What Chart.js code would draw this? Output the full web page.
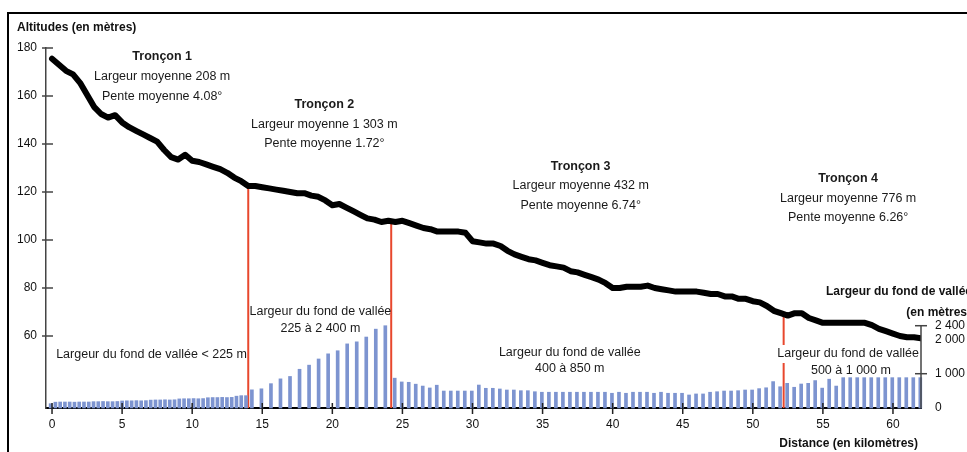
<!DOCTYPE html>
<html>
<head>
<meta charset="utf-8">
<script src="https://cdn.jsdelivr.net/npm/chart.js@4.4.1/dist/chart.umd.min.js"></script>
<style>
  html, body { margin: 0; padding: 0; background: #fff; }
  canvas { display: block; }
</style>
</head>
<body>
<canvas id="myChart" width="967" height="452"></canvas>
<script>
// Profil en long (altitude en m, un point tous les 0,5 km)
var profileStartKm = 0;
var profileStepKm = 0.5;
var profileAlt = [
  175.5, 173, 170.5, 169, 165.5, 160.5, 155.5, 152.5, 151, 152,
  149, 147, 145.5, 144, 142.5, 141, 137.5, 134.5, 133.5, 135.5,
  133, 132.5, 131.5, 130.5, 129.5, 128, 126, 124.5, 122.5, 122.5,
  122, 121.5, 121, 120.5, 120, 119.5, 119.5, 118.5, 118, 116.5,
  114.5, 115, 113.5, 112, 110.5, 109, 108.5, 107.5, 108, 107.5,
  108, 107, 106, 105, 104.5, 103.5, 103.5, 103.5, 103.5, 103,
  99.5, 99, 98.5, 98.5, 97.5, 95.5, 94, 93, 92, 91.5,
  90.5, 89.5, 89, 88.5, 87, 86.5, 85.5, 84.5, 83.5, 82,
  80, 80, 80.5, 80.5, 80.5, 81, 80, 79.5, 79, 78.5,
  78.5, 78.5, 78.5, 78, 77.5, 77.5, 76.5, 76.5, 75.5, 75.5,
  74.5, 74, 72.5, 70.5, 69.5, 68.5, 69.5, 69.5, 67.5, 66.5,
  65.5, 65.5, 65.5, 65.5, 65.5, 65.5, 65.5, 64.5, 63, 62,
  61, 60, 59.5, 59.5, 59
];

// Largeur du fond de vallée (m), par groupe de mesures
var widthStartKm = [-0.1, 14.26, 24.45];
var widthStepKm = [0.34, 0.68, 0.5];
var widthSeg1 = [
  125, 170, 175, 175, 175, 170, 175, 175, 175,
  185, 185, 190, 185, 185, 190,
  205, 210, 210, 215, 210, 215,
  230, 235, 235, 240, 235, 240,
  265, 270, 270, 275, 270, 275,
  300, 305, 305, 310, 305, 310,
  345, 360, 360
];
var widthSeg2 = [530, 560, 710, 850, 920, 1130, 1250, 1430, 1580, 1670, 1870, 1930, 2070, 2300, 2400];
var widthSeg3 = [
  870, 760, 750, 695, 640, 585, 665, 495, 495, 495,
  495, 495, 670, 575, 575, 555, 525, 525, 505, 505,
  475, 460, 460, 460, 460, 460, 460, 460, 460, 460,
  460, 430, 460, 430, 460, 460, 460, 430, 460, 430,
  430, 430, 380, 410, 410, 460, 475, 495, 495, 505,
  525, 525, 565, 590, 770, 620, 720, 605, 700, 720,
  800, 580, 840, 640, 885, 885, 885, 885, 885, 885,
  885, 885, 885, 885, 885, 885
];

// Limites des tronçons
var splitKm = [14, 24.2, 52.2];
var splitAlt = [122.5, 108, 69];

var xTickValues = [0, 5, 10, 15, 20, 25, 30, 35, 40, 45, 50, 55, 60];
var altTickValues = [60, 80, 100, 120, 140, 160, 180];
var widthTickValues = [0, 1000, 2000, 2400];
var widthTickMarks = [1000, 2400];

// Textes posés en km / altitude
var notes = [
  { text: 'Tronçon 1', km: 7.86, alt: 176.3, bold: true },
  { text: 'Largeur moyenne 208 m', km: 7.86, alt: 167.9 },
  { text: 'Pente moyenne 4.08°', km: 7.86, alt: 159.6 },
  { text: 'Tronçon 2', km: 19.43, alt: 156.3, bold: true },
  { text: 'Largeur moyenne 1 303 m', km: 19.43, alt: 148.1 },
  { text: 'Pente moyenne 1.72°', km: 19.43, alt: 140.2 },
  { text: 'Tronçon 3', km: 37.72, alt: 130.8, bold: true },
  { text: 'Largeur moyenne 432 m', km: 37.72, alt: 122.5 },
  { text: 'Pente moyenne 6.74°', km: 37.72, alt: 114.2 },
  { text: 'Tronçon 4', km: 56.8, alt: 125.4, bold: true },
  { text: 'Largeur moyenne 776 m', km: 56.8, alt: 117.1 },
  { text: 'Pente moyenne 6.26°', km: 56.8, alt: 109.2 },
  { text: 'Largeur du fond de vallée < 225 m', km: 7.1, alt: 52.1 },
  { text: 'Largeur du fond de vallée', km: 19.15, alt: 70 },
  { text: '225 à 2 400 m', km: 19.15, alt: 62.9 },
  { text: 'Largeur du fond de vallée', km: 36.94, alt: 52.9 },
  { text: '400 à 850 m', km: 36.94, alt: 46.3 },
  { text: 'Largeur du fond de vallée', km: 56.8, alt: 52.5, box: true },
  { text: '500 à 1 000 m', km: 57.0, alt: 45.8 }
];

var profileData = profileAlt.map(function (v, i) {
  return { x: profileStartKm + i * profileStepKm, y: v };
});
var widthData = [];
[widthSeg1, widthSeg2, widthSeg3].forEach(function (seg, s) {
  seg.forEach(function (v, i) {
    widthData.push({ x: widthStartKm[s] + i * widthStepKm[s], y: v });
  });
});

var FONT = '"Liberation Sans", Arial, sans-serif';
Chart.defaults.font.family = FONT;
Chart.defaults.font.size = 12;
Chart.defaults.color = '#111';

function fmt(v) {
  return String(v).replace(/\B(?=(\d{3})+$)/g, ' ');
}

var decor = {
  id: 'decor',
  beforeDatasetsDraw: function (chart) {
    var ctx = chart.ctx, x = chart.scales.x, y = chart.scales.y;
    ctx.save();
    ctx.strokeStyle = '#e8472d';
    ctx.lineWidth = 2;
    for (var i = 0; i < splitKm.length; i++) {
      var px = x.getPixelForValue(splitKm[i]);
      ctx.beginPath();
      ctx.moveTo(px, y.getPixelForValue(splitAlt[i]));
      ctx.lineTo(px, chart.chartArea.bottom);
      ctx.stroke();
    }
    ctx.restore();
  },
  afterDraw: function (chart) {
    var ctx = chart.ctx, area = chart.chartArea;
    var x = chart.scales.x, y = chart.scales.y, y2 = chart.scales.y2;
    ctx.save();

    // cadre
    ctx.strokeStyle = '#000';
    ctx.lineWidth = 2;
    ctx.beginPath();
    ctx.moveTo(8, 460);
    ctx.lineTo(8, 13);
    ctx.lineTo(980, 13);
    ctx.stroke();

    // textes
    ctx.textAlign = 'center';
    ctx.textBaseline = 'middle';
    notes.forEach(function (n) {
      var px = x.getPixelForValue(n.km), py = y.getPixelForValue(n.alt);
      ctx.font = (n.bold ? 'bold ' : '') + '12.5px ' + FONT;
      if (n.box) {
        var w = ctx.measureText(n.text).width;
        ctx.fillStyle = '#fff';
        ctx.fillRect(px - w / 2 - 2, py - 9, w + 4, 18);
      }
      ctx.fillStyle = '#1a1a1a';
      ctx.fillText(n.text, px, py);
    });

    ctx.font = 'bold 12px ' + FONT;
    ctx.fillStyle = '#111';
    ctx.textAlign = 'left';
    ctx.fillText('Altitudes (en mètres)', 17, 28);
    ctx.textAlign = 'right';
    ctx.fillText('Distance (en kilomètres)', area.right - 3, 444);
    ctx.fillText('Largeur du fond de vallée', area.right + 51, 292);
    ctx.fillText('(en mètres)', area.right + 50, 313);

    // graduations croisées
    ctx.strokeStyle = '#222';
    ctx.lineWidth = 1.5;
    xTickValues.forEach(function (v) {
      var px = x.getPixelForValue(v);
      ctx.beginPath();
      ctx.moveTo(px, area.bottom - 5);
      ctx.lineTo(px, area.bottom + 6);
      ctx.stroke();
    });
    ctx.strokeStyle = '#444';
    altTickValues.forEach(function (v) {
      var py = y.getPixelForValue(v);
      ctx.beginPath();
      ctx.moveTo(area.left - 4, py);
      ctx.lineTo(area.left + 7, py);
      ctx.stroke();
    });

    // axe de droite, seulement jusqu'à 2 400
    ctx.beginPath();
    ctx.moveTo(area.right, y2.getPixelForValue(0));
    ctx.lineTo(area.right, y2.getPixelForValue(2400));
    ctx.stroke();
    widthTickMarks.forEach(function (v) {
      var py = y2.getPixelForValue(v);
      ctx.beginPath();
      ctx.moveTo(area.right - 6, py);
      ctx.lineTo(area.right + 6, py);
      ctx.stroke();
    });
    ctx.restore();
  }
};

var ctx = document.getElementById('myChart');
var myChart = new Chart(ctx, {
  type: 'bar',
  data: {
    datasets: [
      {
        type: 'line',
        data: profileData,
        yAxisID: 'y',
        borderColor: '#000',
        borderWidth: 6,
        borderJoinStyle: 'round',
        borderCapStyle: 'round',
        pointRadius: 0,
        tension: 0,
        fill: false,
        order: 0
      },
      {
        type: 'bar',
        data: widthData,
        yAxisID: 'y2',
        backgroundColor: '#7d94d0',
        barThickness: 3,
        clip: 6,
        order: 1
      }
    ]
  },
  plugins: [decor],
  options: {
    responsive: false,
    devicePixelRatio: 1,
    animation: false,
    layout: { padding: { top: 48, left: 0, right: 0, bottom: 0 } },
    plugins: { legend: { display: false }, tooltip: { enabled: false } },
    scales: {
      x: {
        type: 'linear',
        min: -0.43,
        max: 62,
        offset: false,
        grid: { display: false, drawTicks: false },
        border: { display: true, color: '#000', width: 2 },
        ticks: { padding: 9, color: '#111', autoSkip: false, maxRotation: 0 },
        afterBuildTicks: function (s) { s.ticks = xTickValues.map(function (v) { return { value: v }; }); },
        afterFit: function (s) { s.height = 44; }
      },
      y: {
        position: 'left',
        min: 30,
        max: 180,
        grid: { display: false, drawTicks: false },
        border: { display: true, color: '#444', width: 1.5 },
        ticks: { padding: 9, color: '#111' },
        afterBuildTicks: function (s) { s.ticks = altTickValues.map(function (v) { return { value: v }; }); },
        afterFit: function (s) { s.width = 46; }
      },
      y2: {
        position: 'right',
        min: 0,
        max: 10500,
        grid: { display: false, drawTicks: false },
        border: { display: false },
        ticks: { padding: 14, color: '#111', callback: function (v) { return fmt(v); } },
        afterBuildTicks: function (s) { s.ticks = widthTickValues.map(function (v) { return { value: v }; }); },
        afterFit: function (s) { s.width = 46; }
      }
    }
  }
});
</script>
</body>
</html>
